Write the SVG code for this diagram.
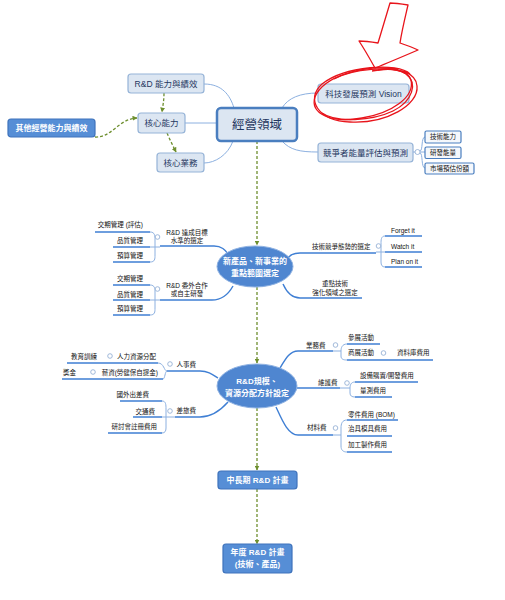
<svg xmlns="http://www.w3.org/2000/svg" width="505" height="600" viewBox="0 0 505 600">
<defs>
<style>
text{font-family:"Liberation Sans","Noto Sans CJK TC",sans-serif;}
.lb{fill:#dce6f2;stroke:#95b3d7;stroke-width:1.2;}
.db{fill:#568ed6;stroke:#3e72bb;stroke-width:1.2;}
.sb{fill:#f5f8fc;stroke:#4a7ebf;stroke-width:1.2;}
.el{fill:#4f86d0;stroke:#8fb2e2;stroke-width:1;}
.t1{font-size:8.5px;fill:#1f3660;text-anchor:middle;}
.tw{font-size:8px;fill:#fff;font-weight:bold;text-anchor:middle;}
.ts{font-size:6.5px;fill:#111;}
.tb{font-size:6.5px;fill:#111;text-anchor:middle;}
.end{text-anchor:end;}
.cn{fill:none;stroke:#8cb0e0;stroke-width:1;}
.ul{fill:none;stroke:#3f7fd4;stroke-width:1.4;}
.br{fill:none;stroke:#8cb0e0;stroke-width:1;}
.cc{fill:#fff;stroke:#8aa8d0;stroke-width:0.8;}
.gd{fill:none;stroke:#6e8f2f;stroke-width:1.3;stroke-dasharray:3 2;marker-end:url(#ah);}
.red{fill:none;stroke:#e8141b;stroke-width:1.3;stroke-linejoin:round;}
</style>
<marker id="ah" viewBox="0 0 10 10" refX="9" refY="5" markerWidth="5" markerHeight="5" orient="auto" markerUnits="userSpaceOnUse">
<path d="M0,0 L10,5 L0,10 Z" fill="#6e8f2f"/>
</marker>
</defs>
<rect width="505" height="600" fill="#fff"/>

<g id="connectors">
<path class="cn" d="M204,84 C222,84 230,95 234,108"/>
<path class="cn" d="M185,123 H217"/>
<path class="cn" d="M233,141 C228,155 215,163 204,163"/>
<path class="cn" d="M282,108 C288,98 300,93 318,93"/>
<path class="cn" d="M282,141 C290,150 300,152 318,152"/>
<path class="cn" d="M413,152 H415 M420,151 C423,151 421,137 425,137 M420,152 H425 M420,153 C423,153 421,168 425,168"/>
<path class="gd" d="M164,93 C164,100 163,105 162,112"/>
<path class="gd" d="M167,133 C170,140 173,146 176,152"/>
<path class="gd" d="M95,137 C112,138 118,119 137,118"/>
<path class="gd" d="M257,141 V245"/>
<path class="gd" d="M257,287 V363"/>
<path class="gd" d="M257,408 V470"/>
<path class="gd" d="M257,489 V544"/>
<!-- branches of new product ellipse -->
<path class="ul" d="M160,246 H214 C222,246 225,250 229,255"/>
<path class="ul" d="M95,232 H150 M113,247 H150 M113,262 H150"/>
<path class="br" d="M150,232 C155,232 155,236 155,240 L155,255 C155,259 155,262 150,262 M150,247 H160"/>
<path class="ul" d="M160,300 H212 C220,300 228,295 233,286"/>
<path class="ul" d="M113,285 H150 M113,300 H150 M113,315 H150"/>
<path class="br" d="M150,285 C155,285 155,289 155,292 L155,308 C155,312 155,315 150,315 M150,300 H160"/>
<path class="ul" d="M286,260 C290,255 293,253 300,253 H376"/>
<path class="ul" d="M385,236 H422 M385,252 H422 M385,267 H422"/>
<path class="br" d="M385,236 C381,236 381,240 381,244 L381,262 C381,265 382,267 385,267 M376,252 H385"/>
<path class="ul" d="M283,284 C287,293 292,298 300,298 H362"/>
<!-- branches of R&D ellipse -->
<path class="ul" d="M167,371 H200 C208,371 212,374 218,378"/>
<path class="ul" d="M67,363 H158 M62,379 H163"/>
<path class="br" d="M158,363 C164,363 164,371 167,371 M163,379 C165,379 165,371 167,371"/>
<path class="ul" d="M175,417 H200 C210,417 220,411 228,402"/>
<path class="ul" d="M120,401 H162 M133,417 H162 M108,433 H162"/>
<path class="br" d="M162,401 C166,401 166,405 166,409 L166,428 C166,431 165,433 162,433 M162,417 H175"/>
<path class="ul" d="M280,368 C286,358 290,351 298,351 H333"/>
<path class="ul" d="M347,344 H380 M347,360 H433"/>
<path class="br" d="M347,344 C342,344 341,348 341,351 L341,356 C341,359 343,360 347,360 M333,351 H341"/>
<path class="ul" d="M296,388 H340"/>
<path class="ul" d="M355,382 H418 M355,397 H392"/>
<path class="br" d="M355,382 C351,382 350,385 350,388 L350,393 C350,396 352,397 355,397 M340,388 H350"/>
<path class="ul" d="M276,407 C282,420 288,435 298,435 H333"/>
<path class="ul" d="M347,420 H398 M347,436 H392 M347,452 H392"/>
<path class="br" d="M347,420 C342,420 341,424 341,428 L341,446 C341,450 343,452 347,452 M333,435 H341"/>
</g>

<g id="n-rd-ability"><rect class="lb" x="128" y="74" width="76" height="19" rx="3"/><text class="t1" x="166" y="86.5">R&amp;D 能力與績效</text></g>
<g id="n-core-ability"><rect class="lb" x="138" y="113" width="47" height="20" rx="3"/><text class="t1" x="161.5" y="126">核心能力</text></g>
<g id="n-core-business"><rect class="lb" x="157" y="153" width="47" height="19" rx="3"/><text class="t1" x="180.5" y="165.5">核心業務</text></g>
<g id="n-other"><rect class="db" x="8" y="119" width="87" height="18" rx="3"/><text class="tw" x="51.5" y="131">其他經營能力與績效</text></g>
<g id="n-center"><rect x="217" y="108" width="80" height="33" rx="4" fill="#dce6f2" stroke="#4a7ebf" stroke-width="2.5"/><text x="257" y="129" font-size="12.5" fill="#1f3660" text-anchor="middle">經營領域</text></g>
<g id="n-vision"><rect class="lb" x="318" y="84" width="91" height="19" rx="3"/><text class="t1" x="363.5" y="96.5">科技發展預測 Vision</text></g>
<g id="n-competitor"><rect class="lb" x="318" y="143" width="95" height="19" rx="3"/><text class="t1" x="365.5" y="155.5">競爭者能量評估與預測</text><circle class="cc" cx="417.5" cy="152" r="2.5"/></g>
<g id="n-tech"><rect class="sb" x="425" y="131" width="36" height="12" rx="1.5"/><text class="tb" x="443" y="139.3">技術能力</text></g>
<g id="n-rdcap"><rect class="sb" x="425" y="147" width="36" height="11.5" rx="1.5"/><text class="tb" x="443" y="155">研發能量</text></g>
<g id="n-market"><rect class="sb" x="425" y="163" width="49" height="11" rx="1.5"/><text class="tb" x="449.5" y="170.8">市場預估份額</text></g>

<g id="n-newproduct"><ellipse class="el" cx="255" cy="266.5" rx="38" ry="20.5"/><text class="tw" x="255" y="264">新產品、新事業的</text><text class="tw" x="255" y="276">重點範圍選定</text></g>
<g id="n-target"><text class="tb" x="187" y="235">R&amp;D 達成目標</text><text class="tb" x="187" y="243">水準的選定</text><circle class="cc" cx="157.5" cy="237" r="2.3"/>
<text class="ts end" x="143" y="227.3">交期管理 (評估)</text><text class="ts end" x="143" y="243.3">品質管理</text><text class="ts end" x="143" y="258.3">預算管理</text></g>
<g id="n-outsource"><text class="tb" x="187" y="288.3">R&amp;D 委外合作</text><text class="tb" x="187" y="295.8">或自主研發</text><circle class="cc" cx="157.5" cy="289" r="2.3"/>
<text class="ts end" x="143" y="281.3">交期管理</text><text class="ts end" x="143" y="297.3">品質管理</text><text class="ts end" x="143" y="311.3">預算管理</text></g>
<g id="n-techcomp"><text class="ts" x="312" y="249.3">技術競爭態勢的選定</text><circle class="cc" cx="378.5" cy="246" r="2.3"/>
<text class="ts" x="391" y="233.3">Forget it</text><text class="ts" x="391" y="249.3">Watch it</text><text class="ts" x="391" y="264.3">Plan on it</text></g>
<g id="n-keytech"><text class="tb" x="335" y="286.3">重點技術</text><text class="tb" x="335" y="295.3">強化領域之選定</text></g>

<g id="n-rdscale"><ellipse class="el" cx="257" cy="386" rx="40" ry="22"/><text class="tw" x="257" y="384">R&amp;D規模、</text><text class="tw" x="257" y="396">資源分配方針設定</text></g>
<g id="n-personnel"><text class="ts end" x="196" y="367.3">人事費</text><circle class="cc" cx="170" cy="364" r="2.3"/>
<text class="ts end" x="156" y="359.3">人力資源分配</text><circle class="cc" cx="110" cy="356" r="2.3"/><text class="ts end" x="97" y="359.3">教育訓練</text>
<text class="ts end" x="158" y="375.3">薪資(勞健保自提金)</text><circle class="cc" cx="93" cy="372" r="2.3"/><text class="ts end" x="76" y="375.3">獎金</text></g>
<g id="n-travel"><text class="ts end" x="196" y="413.3">差旅費</text><circle class="cc" cx="170" cy="411" r="2.3"/>
<text class="ts end" x="149" y="397.3">國外出差費</text><text class="ts end" x="155" y="414.3">交通費</text><text class="ts end" x="157" y="429.3">研討會註冊費用</text></g>
<g id="n-business"><text class="ts" x="306" y="348.3">業務費</text><circle class="cc" cx="335.5" cy="345" r="2.3"/>
<text class="ts" x="348" y="340.3">參展活動</text><text class="ts" x="348" y="355.3">商展活動</text><circle class="cc" cx="383.5" cy="353" r="2.3"/><text class="ts" x="397" y="355.3">資料庫費用</text></g>
<g id="n-maint"><text class="ts" x="318" y="385.3">維護費</text><circle class="cc" cx="347" cy="383" r="2.3"/>
<text class="ts" x="360" y="378.3">設備購置/開發費用</text><text class="ts" x="360" y="393.3">量測費用</text></g>
<g id="n-material"><text class="ts" x="307" y="430.3">材料費</text><circle class="cc" cx="335.5" cy="428" r="2.3"/>
<text class="ts" x="348" y="417.3">零件費用 (BOM)</text><text class="ts" x="348" y="431.3">治具模具費用</text><text class="ts" x="348" y="447.3">加工製作費用</text></g>

<g id="n-midterm"><rect class="db" x="218" y="471" width="79" height="18" rx="3"/><text class="tw" x="257.5" y="483">中長期 R&amp;D 計畫</text></g>
<g id="n-annual"><rect class="db" x="223" y="544" width="69" height="29" rx="3"/><text class="tw" x="257.5" y="555">年度 R&amp;D 計畫</text><text class="tw" x="257.5" y="567">(技術、產品)</text></g>

<g id="annotation">
<path class="red" d="M390,3 C396,3 402,4 408,5 C405,18 402,30 400,43 C406,45 412,47 418,50 C404,56 390,62 375,68 C370,59 365,50 359,41 C365,41 372,42 378,43 C382,30 386,16 390,3 Z"/>
<path class="red" d="M410,74 C398,62 345,66 322,84 C305,99 318,121 350,122 C386,124 419,105 417,86 C416,72 396,67 378,70"/>
<path class="red" d="M398,69 C362,64 323,77 315,97 C310,113 330,124 362,118 C392,113 415,97 411,80 C408,70 392,67 372,71"/>
<path class="red" d="M334,79 C352,69 392,65 406,74 C418,83 413,101 393,111 C372,121 336,123 322,113"/>
</g>
</svg>
